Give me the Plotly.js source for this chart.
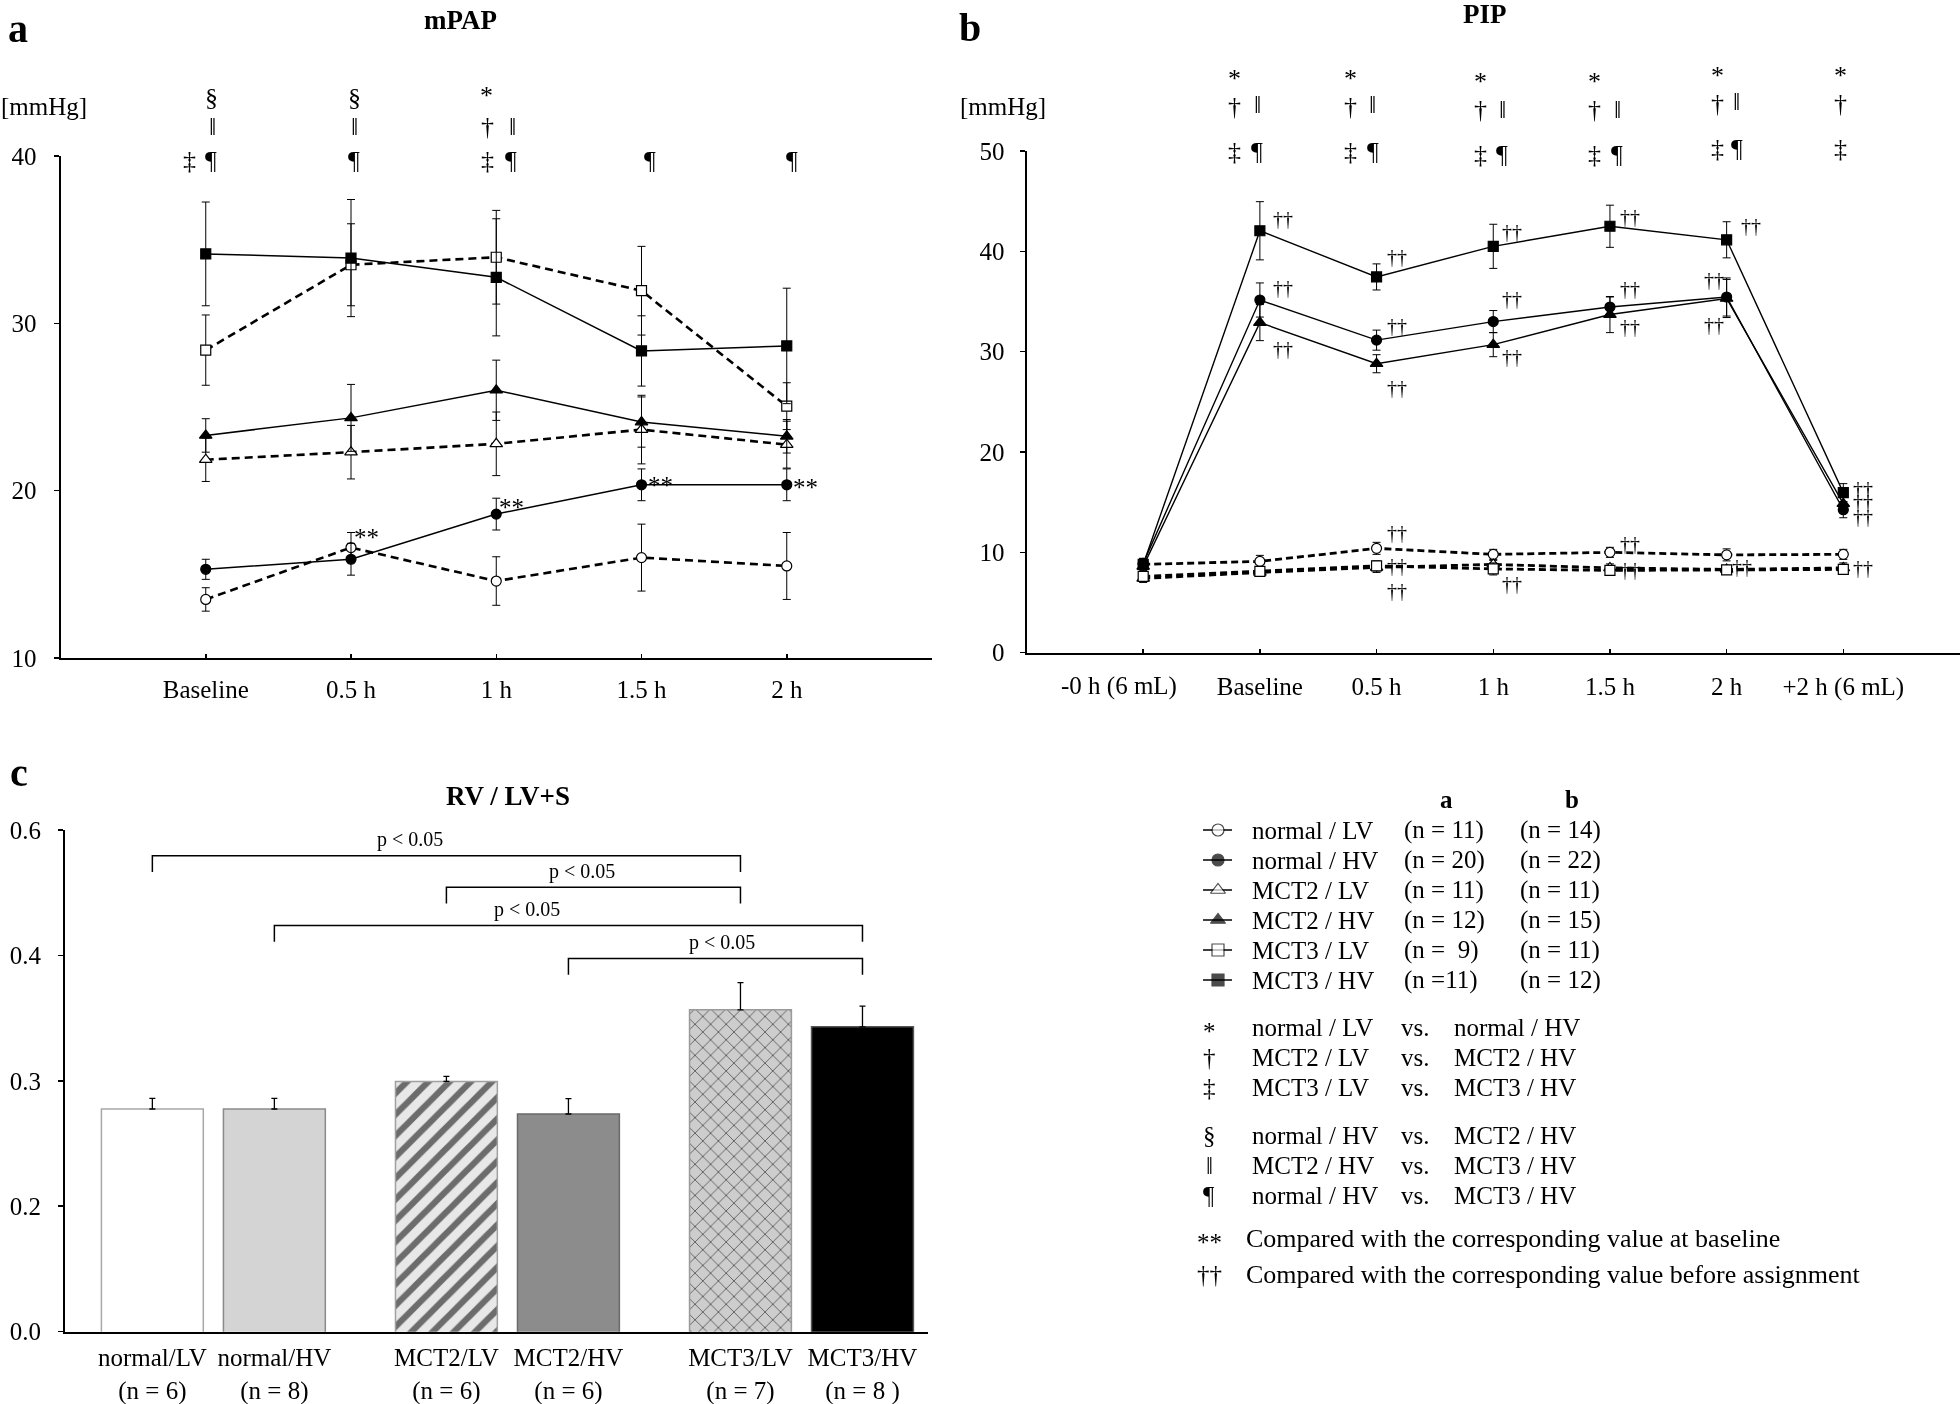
<!DOCTYPE html>
<html><head><meta charset="utf-8">
<script src="https://cdn.plot.ly/plotly-3.0.1.min.js"></script>
<style>html,body{margin:0;padding:0;background:#fff}#chart{width:1960px;height:1404px}
.main-svg{will-change:transform}</style>
</head><body><div id="chart"></div>
<script>
// ---------- Panel a : mPAP ----------
const timesA = ['Baseline', '0.5 h', '1 h', '1.5 h', '2 h'];
const mpapNormalLV    = [13.5, 16.6, 14.6, 16.0, 15.5];
const mpapNormalLVErr = [0.7, 0.9, 1.45, 2.0, 2.0];
const mpapNormalHV    = [15.3, 15.9, 18.6, 20.35, 20.35];
const mpapNormalHVErr = [0.6, 0.95, 0.95, 0.95, 0.95];
const mpapMCT2LV      = [21.85, 22.3, 22.8, 23.65, 22.75];
const mpapMCT2LVErr   = [1.3, 1.6, 1.9, 2.05, 1.4];
const mpapMCT2HV      = [23.3, 24.35, 26.0, 24.1, 23.25];
const mpapMCT2HVErr   = [1.0, 2.0, 1.8, 1.5, 1.0];
const mpapMCT3LV      = [28.4, 33.5, 33.95, 31.95, 25.05];
const mpapMCT3LVErr   = [2.1, 2.45, 2.8, 2.65, 1.4];
const mpapMCT3HV      = [34.15, 33.9, 32.75, 28.35, 28.65];
const mpapMCT3HVErr   = [3.1, 3.5, 3.5, 2.1, 3.45];

// ---------- Panel b : PIP ----------
const timesB = ['-0 h (6 mL)', 'Baseline', '0.5 h', '1 h', '1.5 h', '2 h', '+2 h (6 mL)'];
const pipNormalLV    = [8.8, 9.1, 10.4, 9.8, 10.0, 9.75, 9.8];
const pipNormalLVErr = [0.6, 0.6, 0.6, 0.5, 0.5, 0.6, 0.5];
const pipNormalHV    = [8.9, 35.15, 31.15, 33.0, 34.45, 35.45, 14.25];
const pipNormalHVErr = [0.5, 1.7, 1.0, 1.1, 1.0, 1.9, 0.8];
const pipMCT2LV      = [7.4, 8.0, 8.5, 8.8, 8.45, 8.3, 8.45];
const pipMCT2LVErr   = [0.4, 0.4, 0.5, 0.4, 0.4, 0.4, 0.5];
const pipMCT2HV      = [8.6, 32.9, 28.8, 30.7, 33.7, 35.3, 14.85];
const pipMCT2HVErr   = [0.5, 1.8, 0.9, 1.2, 1.8, 1.9, 0.9];
const pipMCT3LV      = [7.6, 8.1, 8.65, 8.35, 8.2, 8.25, 8.3];
const pipMCT3LVErr   = [0.4, 0.4, 0.5, 0.6, 0.4, 0.4, 0.5];
const pipMCT3HV      = [8.8, 42.05, 37.45, 40.5, 42.5, 41.15, 15.95];
const pipMCT3HVErr   = [0.5, 2.9, 1.3, 2.2, 2.1, 1.8, 0.9];

// ---------- Panel c : RV / LV+S ----------
const barGroups = ['normal/LV', 'normal/HV', 'MCT2/LV', 'MCT2/HV', 'MCT3/LV', 'MCT3/HV'];
const barN      = ['(n = 6)', '(n = 8)', '(n = 6)', '(n = 6)', '(n = 7)', '(n = 8 )'];
const rvValues  = [0.2775, 0.2775, 0.2995, 0.2735, 0.3565, 0.343];
const rvErr     = [0.0085, 0.0085, 0.004, 0.0123, 0.0217, 0.0164];
const rvTickVals = [0.1, 0.2, 0.3, 0.4, 0.5];
const rvTickText = ['0.0', '0.2', '0.3', '0.4', '0.6'];
// significance brackets: [from bar, to bar]
const sigPairs = [[0, 4], [2, 4], [1, 5], [3, 5]];
const sigText = 'p < 0.05';

// ---------- Legend ----------
const seriesNames = ['normal / LV', 'normal / HV', 'MCT2 / LV', 'MCT2 / HV', 'MCT3 / LV', 'MCT3 / HV'];
const nA = ['(n = 11)', '(n = 20)', '(n = 11)', '(n = 12)', '(n =\u00a0 9)', '(n =11)'];
const nB = ['(n = 14)', '(n = 22)', '(n = 11)', '(n = 15)', '(n = 11)', '(n = 12)'];
const compSym   = ['*', '\u2020', '\u2021', '\u00a7', '\u2016', '\u00b6'];
const compLeft  = ['normal / LV', 'MCT2 / LV', 'MCT3 / LV', 'normal / HV', 'MCT2 / HV', 'normal / HV'];
const compRight = ['normal / HV', 'MCT2 / HV', 'MCT3 / HV', 'MCT2 / HV', 'MCT3 / HV', 'MCT3 / HV'];
const noteSym  = ['**', '\u2020\u2020'];
const noteText = ['Compared with the corresponding value at baseline', 'Compared with the corresponding value before assignment'];

// ---------- Styling / layout helpers ----------
const W = 1960, H = 1404;
const px = x => x / W, py = y => 1 - y / H;
const FONT = '"Liberation Serif", "Times New Roman", serif';
const styles = [
  {sym: 'circle', fill: '#fff', dash: true, size: 10},
  {sym: 'circle', fill: '#000', dash: false, size: 10},
  {sym: 'triangle-up', fill: '#fff', dash: true, size: 11},
  {sym: 'triangle-up', fill: '#000', dash: false, size: 11},
  {sym: 'square', fill: '#fff', dash: true, size: 10},
  {sym: 'square', fill: '#000', dash: false, size: 10}
];
const seriesA = [mpapNormalLV, mpapNormalHV, mpapMCT2LV, mpapMCT2HV, mpapMCT3LV, mpapMCT3HV];
const errA = [mpapNormalLVErr, mpapNormalHVErr, mpapMCT2LVErr, mpapMCT2HVErr, mpapMCT3LVErr, mpapMCT3HVErr];
const seriesB = [pipNormalLV, pipNormalHV, pipMCT2LV, pipMCT2HV, pipMCT3LV, pipMCT3HV];
const errB = [pipNormalLVErr, pipNormalHVErr, pipMCT2LVErr, pipMCT2HVErr, pipMCT3LVErr, pipMCT3HVErr];

const traces = [];
function addSeries(vals, errs, s, xa, ya, lw, dashw, dashpat) {
  traces.push({
    type: 'scatter', mode: 'lines+markers', xaxis: xa, yaxis: ya, showlegend: false, hoverinfo: 'skip',
    x: vals.map((_, k) => k), y: vals,
    error_y: {type: 'data', array: errs, visible: true, color: '#000', thickness: 1, width: 4},
    line: {color: '#000', width: s.dash ? dashw : lw, dash: s.dash ? dashpat : 'solid'},
    marker: {symbol: s.sym, size: s.size, color: s.fill, line: {color: '#000', width: 1.2}},
    cliponaxis: false
  });
}
[0, 2, 4, 1, 3, 5].forEach(i => addSeries(seriesA[i], errA[i], styles[i], 'x', 'y', 1.5, 2.6, '8px,5px'));
[0, 2, 4, 1, 3, 5].forEach(i => addSeries(seriesB[i], errB[i], styles[i], 'x2', 'y2', 1.4, 2.8, '7px,4px'));

// bars (one trace per bar so every bar gets its own fill pattern)
const barX = barGroups.map((_, i) => Math.floor(i / 2) * 2.41 + (i % 2));
const barStyle = [
  {fill: '#ffffff', line: '#a8a8a8'},
  {fill: '#d4d4d4', line: '#8a8a8a'},
  {fill: '#e8e8e8', line: '#a0a0a0', shape: '/', fg: '#6c6c6c', size: 15, sol: 0.42},
  {fill: '#8c8c8c', line: '#6a6a6a'},
  {fill: '#cdcdcd', line: '#9a9a9a', shape: 'x', fg: '#5c5c5c', size: 11, sol: 0.16},
  {fill: '#000000', line: '#555555'}
];
barGroups.forEach((g, i) => {
  const st = barStyle[i];
  const marker = {color: st.fill, line: {color: st.line, width: 1.5}};
  if (st.shape) marker.pattern = {shape: st.shape, fgcolor: st.fg, bgcolor: st.fill, size: st.size, solidity: st.sol, fgopacity: 1};
  traces.push({
    type: 'bar', xaxis: 'x3', yaxis: 'y3', x: [barX[i]], y: [rvValues[i]], width: 0.835, name: g,
    showlegend: false, hoverinfo: 'skip', marker: marker,
    error_y: {type: 'data', symmetric: false, array: [rvErr[i]], arrayminus: [0], color: '#000', thickness: 1.3, width: 3}
  });
});

// legend keys (overlay axis in pixel units)
const keyY = seriesNames.map((_, i) => 830 + 30 * i);
seriesNames.forEach((_, i) => {
  traces.push({type: 'scatter', mode: 'lines', xaxis: 'x4', yaxis: 'y4', x: [1203, 1232], y: [keyY[i], keyY[i]],
    line: {color: '#000', width: 1.5}, showlegend: false, hoverinfo: 'skip'});
});
traces.push({type: 'scatter', mode: 'markers', xaxis: 'x4', yaxis: 'y4', x: seriesNames.map(() => 1218), y: keyY,
  marker: {symbol: styles.map(s => s.sym), size: styles.map(s => s.size + 2), color: styles.map(s => s.fill), line: {color: '#000', width: 1.2}},
  showlegend: false, hoverinfo: 'skip'});

// ---------- annotations ----------
const ann = [];
function txt(x, y, text, size, opt) {
  ann.push(Object.assign({xref: 'paper', yref: 'paper', x: px(x), y: py(y), text: text, showarrow: false,
    xanchor: 'center', yanchor: 'middle', font: {family: FONT, size: size, color: '#000'}}, opt || {}));
}
// panel letters & titles
txt(18, 29, '<b>a</b>', 40); txt(970, 27, '<b>b</b>', 40); txt(19, 772, '<b>c</b>', 40);
txt(460, 20, '<b>mPAP</b>', 27); txt(1485, 14, '<b>PIP</b>', 27); txt(508, 796, '<b>RV / LV+S</b>', 27);
txt(44, 106, '[mmHg]', 25); txt(1003, 106, '[mmHg]', 25);

// first PIP category label sits left of its tick in the original
ann.push({xref: 'x2', yref: 'paper', x: 0, y: py(686), xshift: -24, text: timesB[0], showarrow: false,
  xanchor: 'center', yanchor: 'middle', font: {family: FONT, size: 25, color: '#000'}});

// panel a significance symbols (pixel centres)
const symA = [
  ['\u00a7', 211, 97], ['\u2016', 212, 127], ['\u2021', 189, 161], ['\u00b6', 211, 161],
  ['\u00a7', 354, 97], ['\u2016', 354, 127], ['\u00b6', 354, 161],
  ['*', 486, 96], ['\u2020', 487, 126], ['\u2016', 512, 127], ['\u2021', 487, 161], ['\u00b6', 511, 161],
  ['\u00b6', 650, 161], ['\u00b6', 792, 161]
];
symA.forEach(s => txt(s[1], s[2], s[0], 26));

// panel b significance symbols
const catB = k => 1143.6 + 116.6 * k;
const leftOff = [-26, -26, -13, -16, -9, -3], rightOff = [-3, -4, 9, 7, 10];
const rowDy = [0, 0, 4, 4, -3, -3];
for (let c = 0; c < 6; c++) {
  const cx = catB(c + 1), d = rowDy[c];
  txt(cx + leftOff[c], 78 + d, '*', 26);
  txt(cx + leftOff[c], 106 + d, '\u2020', 26);
  txt(cx + leftOff[c], 151 + d, '\u2021', 26);
  if (c < 5) {
    txt(cx + rightOff[c], 105 + d, '\u2016', 26);
    txt(cx + rightOff[c], 151 + d, '\u00b6', 26);
  }
}

// panel a ** marks on normal/HV
const starsA = [[1, 1, -22], [2, 1, -7], [3, 4, 1], [4, 4, 3]];
starsA.forEach(s => ann.push({xref: 'x', yref: 'y', x: s[0], y: mpapNormalHV[s[0]], text: '**', showarrow: false,
  xanchor: 'left', yanchor: 'middle', xshift: s[1], yshift: -s[2], font: {family: FONT, size: 25, color: '#000'}}));

// panel b dagger marks [series, time, dx, dy]
const daggersB = [
  [5, 1, 11, -12], [1, 1, 11, -12], [3, 1, 11, 26],
  [5, 2, 8, -20], [1, 2, 8, -14], [3, 2, 8, 24], [0, 2, 8, -15], [4, 2, 8, 0], [2, 2, 8, 24],
  [5, 3, 7, -14], [1, 3, 7, -23], [3, 3, 7, 12], [4, 3, 7, 15],
  [5, 4, 8, -9], [1, 4, 8, -18], [3, 4, 8, 12], [0, 4, 8, -8], [4, 4, 8, 0],
  [5, 5, 12, -14], [1, 5, -25, -17], [3, 5, -25, 26], [4, 5, 3, -3],
  [5, 6, 8, -4], [3, 6, 8, -2], [1, 6, 8, 7], [4, 6, 8, -1]
];
daggersB.forEach(d => ann.push({xref: 'x2', yref: 'y2', x: d[1], y: seriesB[d[0]][d[1]], text: '\u2020\u2020', showarrow: false,
  xanchor: 'left', yanchor: 'middle', xshift: d[2], yshift: -d[3], font: {family: FONT, size: 20, color: '#000'}}));

// panel c brackets
const sigLevels = [0.4794, 0.4542, 0.4237, 0.3974];
const sigTextX = [2.11, 3.52, 3.07, 4.67];
const shapes = [];
sigPairs.forEach((p, i) => {
  const x0 = barX[p[0]], x1 = barX[p[1]], yv = sigLevels[i], yd = yv - 0.013;
  shapes.push({type: 'path', xref: 'x3', yref: 'y3', path: `M ${x0} ${yd} L ${x0} ${yv} L ${x1} ${yv} L ${x1} ${yd}`,
    line: {color: '#000', width: 1.5}});
  ann.push({xref: 'x3', yref: 'y3', x: sigTextX[i], y: yv + 0.0125, text: sigText, showarrow: false,
    xanchor: 'center', yanchor: 'middle', font: {family: FONT, size: 20, color: '#000'}});
});

// legend texts
txt(1446, 799, '<b>a</b>', 25); txt(1572, 799, '<b>b</b>', 25);
seriesNames.forEach((n, i) => {
  txt(1250, keyY[i], n, 25, {xanchor: 'left'});
  txt(1402, keyY[i], nA[i], 25, {xanchor: 'left'});
  txt(1518, keyY[i], nB[i], 25, {xanchor: 'left'});
});
const compY = [1027, 1057, 1087, 1135, 1165, 1195];
compSym.forEach((s, i) => {
  txt(1209, compY[i] + (i === 0 ? 4 : 0), s, 25);
  txt(1250, compY[i], compLeft[i], 25, {xanchor: 'left'});
  txt(1399, compY[i], 'vs.', 25, {xanchor: 'left'});
  txt(1452, compY[i], compRight[i], 25, {xanchor: 'left'});
});
const noteY = [1238, 1274];
noteSym.forEach((s, i) => {
  txt(1209, noteY[i] + (i === 0 ? 4 : 0), s, 25);
  txt(1244, noteY[i], noteText[i], 26, {xanchor: 'left'});
});

// ---------- layout ----------
const tickFont = {family: FONT, size: 25, color: '#000'};
const baseAxis = {showgrid: false, zeroline: false, showline: true, linecolor: '#000', linewidth: 2, tickfont: tickFont,
  tickcolor: '#000', fixedrange: true, tickangle: 0};
const ticktextB = timesB.map((t, i) => i === 0 ? '' : t).concat(['']);
const layout = {
  width: W, height: H, margin: {l: 0, r: 0, t: 0, b: 0}, paper_bgcolor: '#fff', plot_bgcolor: 'rgba(0,0,0,0)',
  showlegend: false, barmode: 'overlay', font: {family: FONT, color: '#000'},
  xaxis: Object.assign({}, baseAxis, {domain: [px(60.5), px(932)], range: [-1, 5], anchor: 'y',
    tickvals: [0, 1, 2, 3, 4, 5], ticktext: timesA.concat(['']), ticks: 'inside', ticklen: 4, tickwidth: 1.5, ticklabelstandoff: 8}),
  yaxis: Object.assign({}, baseAxis, {domain: [py(658), py(156)], range: [10, 40], anchor: 'x',
    tickvals: [10, 20, 30, 40], ticks: 'outside', ticklen: 5, tickwidth: 1.5, ticklabelstandoff: 12}),
  xaxis2: Object.assign({}, baseAxis, {domain: [px(1026.5), 1], range: [-1, 7], anchor: 'y2',
    tickvals: [0, 1, 2, 3, 4, 5, 6, 7], ticktext: ticktextB, ticks: 'inside', ticklen: 4, tickwidth: 1.5, ticklabelstandoff: 10}),
  yaxis2: Object.assign({}, baseAxis, {domain: [py(652.7), py(151)], range: [0, 50], anchor: 'x2',
    tickvals: [0, 10, 20, 30, 40, 50], ticks: 'outside', ticklen: 5, tickwidth: 1.5, ticklabelstandoff: 10}),
  xaxis3: Object.assign({}, baseAxis, {domain: [px(65), px(928)], range: [-0.716, 6.357], anchor: 'y3', linewidth: 2.5,
    tickvals: barX, ticktext: barGroups.map((g, i) => g + '<br>' + barN[i]), ticks: '', ticklabelstandoff: 2}),
  yaxis3: Object.assign({}, baseAxis, {domain: [py(1331.7), py(829.8)], range: [0.1, 0.5], anchor: 'x3',
    tickvals: rvTickVals, ticktext: rvTickText, ticks: 'outside', ticklen: 5, tickwidth: 1.5, ticklabelstandoff: 12}),
  xaxis4: {domain: [0, 1], range: [0, W], anchor: 'y4', visible: false, fixedrange: true},
  yaxis4: {domain: [0, 1], range: [H, 0], anchor: 'x4', visible: false, fixedrange: true},
  annotations: ann, shapes: shapes
};
Plotly.newPlot('chart', traces, layout, {staticPlot: true, displayModeBar: false});
</script></body></html>
